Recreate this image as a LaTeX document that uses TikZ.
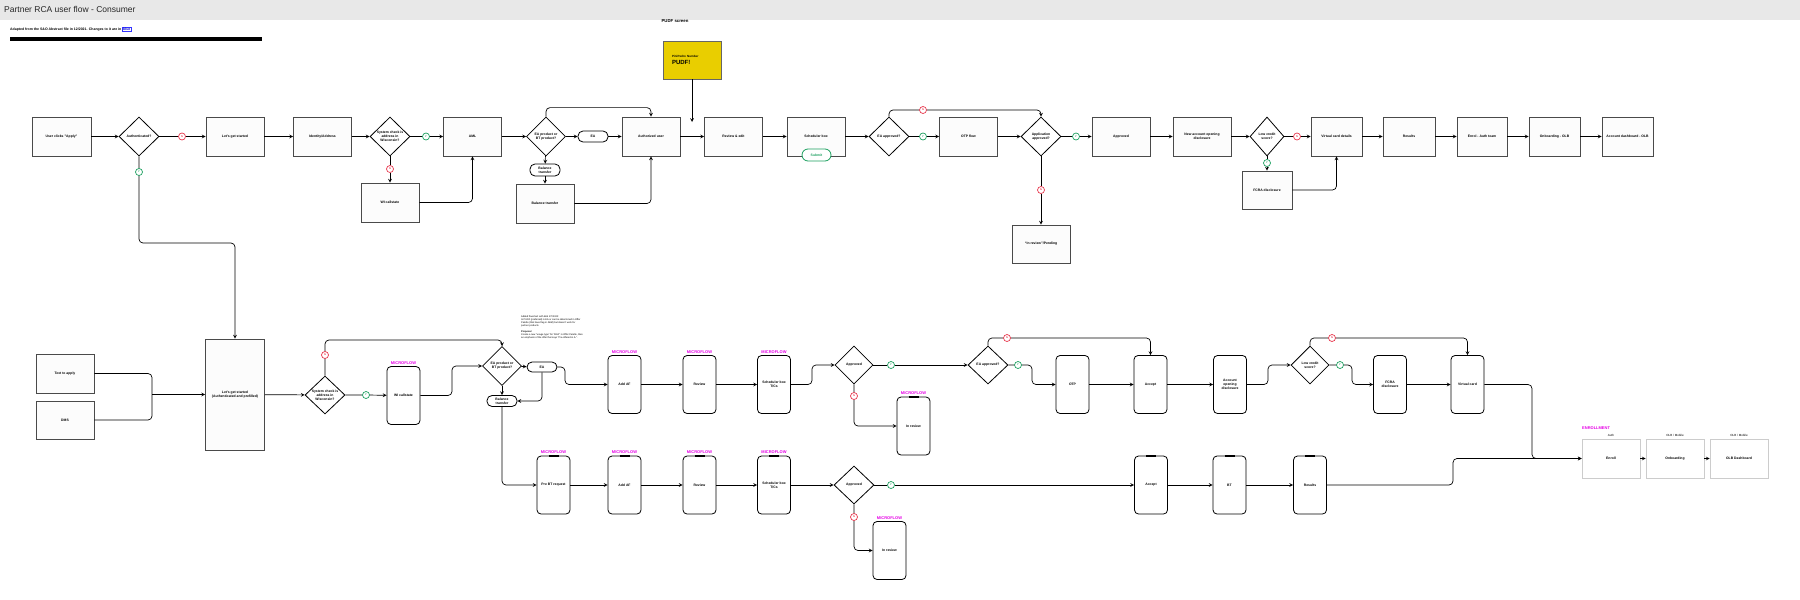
\documentclass[tikz,border=0pt]{standalone}
\usepackage{fontspec}
\setmainfont{Liberation Sans}
\usetikzlibrary{shapes.geometric,positioning}
\definecolor{okgreen}{HTML}{1A9F5E}
\definecolor{nored}{HTML}{E8364C}
\definecolor{mflow}{HTML}{E500E5}
\definecolor{pudfyellow}{HTML}{E9CE00}
\definecolor{boxline}{HTML}{4A4A4A}

\begin{document}
\begin{tikzpicture}[x=1pt,y=1pt,>=stealth]
\tikzstyle{every node}+=[inner sep=0pt]
\tikzstyle{txt}=[font=\fontsize{3.4}{4.2}\selectfont\bfseries, align=center]
\tikzstyle{box}=[txt, rectangle, draw=boxline, fill=gray!2, line width=0.8pt, minimum width=58pt, minimum height=39pt]
\tikzstyle{enrollbox}=[box, draw=gray!40, fill=white, line width=0.6pt]
\tikzstyle{phone}=[txt, rectangle, rounded corners=4pt, draw=black, fill=white, line width=0.8pt, minimum width=33pt, minimum height=58pt]
\tikzstyle{ask}=[txt, diamond, aspect=1, draw=black, fill=white, line width=0.8pt, minimum width=40pt, minimum height=39pt]
\tikzstyle{pill}=[txt, rectangle, rounded corners=5pt, draw=black, fill=white, line width=0.8pt, minimum width=30pt, minimum height=11pt]
\tikzstyle{ybadge}=[circle, draw=okgreen, fill=white, text=okgreen, line width=0.7pt, minimum size=7pt, font=\fontsize{2.5}{3}\selectfont\bfseries]
\tikzstyle{nbadge}=[ybadge, draw=nored, text=nored]
\tikzstyle{flow}=[->, line width=0.7pt, rounded corners=4pt]
\tikzstyle{micro}=[font=\fontsize{4}{4}\selectfont\bfseries, text=mflow]
\tikzstyle{small}=[font=\fontsize{3}{3.5}\selectfont]
\useasboundingbox (0,0) rectangle (1800,-600);

% header
\fill[gray!18] (0,0) rectangle (1800,-20);
\node[anchor=west, font=\fontsize{8.5}{10}\selectfont, text=black!85] (title) at (4,-9.5) {Partner RCA user flow - Consumer};
\node[anchor=west, font=\fontsize{3.5}{4}\selectfont\bfseries] (adapted) at (10,-29.5) {Adapted from the S\&O Abstract file in 12/2021. Changes to it are in};
\node[right=0.8pt of adapted, draw=blue!80, text=blue!80!black, font=\fontsize{3.5}{4}\selectfont\bfseries, inner sep=0.6pt] (bluetag) {blue};
\fill (10,-37.3) rectangle (262,-40.7);

% PUDF screen
\node[font=\fontsize{4.3}{5}\selectfont\bfseries] (pudfcap) at (675,-21) {PUDF screen};
\node[box, fill=pudfyellow, draw=black!60, minimum height=38pt, align=left, text width=40pt] (pudf) at (692,-60)
  {\fontsize{3}{4}\selectfont PiniPedro Number\\[2pt]\fontsize{6}{7}\selectfont PUDF!};
\coordinate (pudfend) at (692,-122);

% top row
\node[box, minimum width=59pt] (apply) at (61.5,-136.5) {User clicks "Apply"};
\node[ask] (authq) at (139,-136.5) {Authenticated?};
\node[nbadge] (n1) at (182,-136.5) {N};
\node[box] (start1) at (235,-136.5) {Let's get started};
\node[box] (ident) at (322.5,-136.5) {Identity/Address};
\node[ask] (wiq1) at (390,-136.5) {System check is\\address in\\Wisconsin?};
\node[ybadge] (y1) at (426,-136.5) {Y};
\node[box] (aml) at (472.5,-136.5) {AML};
\node[ask, minimum width=39pt] (eaq1) at (546,-136.5) {EA product or\\BT product?};
\node[pill] (ea1) at (593,-136.5) {EA};
\node[box] (authuser) at (651,-136.5) {Authorized user};
\node[box] (review) at (733.5,-136.5) {Review \& edit};
\node[box] (sched) at (816,-136.5) {Scheduler box};
\node[ask] (eaok1) at (889,-136.5) {EA approved?};
\node[ybadge] (y2) at (923,-136.5) {Y};
\node[box] (otp1) at (968.5,-136.5) {OTP flow};
\node[ask] (appok) at (1041,-136.5) {Application\\approved?};
\node[ybadge] (y3) at (1076,-136.5) {Y};
\node[box] (approved) at (1121,-136.5) {Approved};
\node[box] (newacct) at (1202,-136.5) {New account opening\\disclosure};
\node[ask, minimum width=34pt] (lowq1) at (1267,-136.5) {Low credit\\score?};
\node[nbadge] (n2) at (1297,-136.5) {N};
\node[box, minimum width=51pt] (vcard1) at (1336.5,-136.5) {Virtual card details};
\node[box, minimum width=52pt] (results1) at (1409,-136.5) {Results};
\node[box, minimum width=50pt] (enrol1) at (1482,-136.5) {Enrol - Auth team};
\node[box, minimum width=51pt] (onbolb) at (1554.5,-136.5) {Onboarding - OLB};
\node[box, minimum width=51pt] (dash) at (1627.5,-136.5) {Account dashboard - OLB};

% below top row
\node[ybadge] (y4) at (139,-172) {Y};
\node[nbadge] (n3) at (390,-169) {N};
\node[box] (wicall1) at (390,-202.5) {WI callstate};
\node[pill, minimum height=12pt] (bt1) at (545,-170) {Balance\\transfer};
\node[box] (btbox) at (545,-203.5) {Balance transfer};
\node[pill, draw=okgreen, text=okgreen, minimum width=29pt, minimum height=12pt, rounded corners=6pt] (submit) at (816.5,-155) {Submit};
\node[nbadge] (n4) at (923,-110) {N};
\node[nbadge] (n5) at (1041,-190) {N};
\node[box, minimum height=38pt] (pending) at (1041,-244) {“In review”/Pending};
\node[ybadge] (y5) at (1267,-163) {Y};
\node[box, minimum width=50pt, minimum height=38pt] (fcra1) at (1267,-190) {FCRA disclosure};

\draw[flow] (apply) -- (authq);
\draw[flow] (authq) -- (n1) -- (start1);
\draw[flow] (start1) -- (ident);
\draw[flow] (ident) -- (wiq1);
\draw[flow] (wiq1) -- (y1) -- (aml);
\draw[flow] (aml) -- (eaq1);
\draw[flow] (eaq1) -- (ea1);
\draw[flow] (ea1) -- (authuser);
\draw[flow] (authuser) -- (review);
\draw[flow] (review) -- (sched);
\draw[flow] (sched) -- (eaok1);
\draw[flow] (eaok1) -- (y2) -- (otp1);
\draw[flow] (otp1) -- (appok);
\draw[flow] (appok) -- (y3) -- (approved);
\draw[flow] (approved) -- (newacct);
\draw[flow] (newacct) -- (lowq1);
\draw[flow] (lowq1) -- (n2) -- (vcard1);
\draw[flow] (vcard1) -- (results1);
\draw[flow] (results1) -- (enrol1);
\draw[flow] (enrol1) -- (onbolb);
\draw[flow] (onbolb) -- (dash);
\draw[flow] (wiq1) -- (n3) -- (wicall1);
\draw[flow] (wicall1) -| (aml);
\draw[flow] (eaq1.north) -- ++(0,9) -| (authuser.north);
\draw[flow] (eaq1) -- (bt1);
\draw[flow] (bt1) -- (btbox);
\draw[flow] (btbox) -| (authuser);
\draw[flow] (pudf) -- (pudfend);
\draw[flow] (eaok1) |- (n4) -| (appok);
\draw[flow] (appok) -- (n5) -- (pending);
\draw[flow] (lowq1) -- (y5) -- (fcra1);
\draw[flow] (fcra1) -| (vcard1);

% second part
\node[box] (txtapply) at (65,-373.5) {Text to apply};
\node[box, minimum height=38pt] (dms) at (65,-420) {DMS};
\coordinate (brace) at (152,-394.5);
\node[box, minimum width=59pt, minimum height=111pt] (start2) at (235,-394.5) {Let's get started\\(Authenticated and prefilled)};
\node[ask, minimum height=38pt] (wiq2) at (325,-395) {System check is\\address in\\Wisconsin?};
\node[nbadge] (n6) at (325,-355) {N};
\node[ybadge] (y6) at (366,-395) {Y};
\node[phone, label={[micro, label distance=1.5pt]above:MICROFLOW}] (wicall2) at (403.5,-395.5) {WI callstate};
\node[ask, minimum width=39pt] (eaq2) at (502,-366) {EA product or\\BT product?};
\node[pill, minimum height=10pt] (ea2) at (542,-367) {EA};
\node[pill] (bt2) at (502,-401) {Balance\\transfer};
\node[anchor=north west, align=left, font=\fontsize{2.4}{2.9}\selectfont] (memo) at (521,-316)
  {Added flowchart with Bob 1/7/2022:\\Is PUDF (preferred) in EA or can be determined in Offer\\Palette (that have flag in AEM) but doesn't work for\\partner products.\\[2.9pt]\textbf{Proposal}\\Create a new "usage type" for "BCA" in Offer Palette, then\\an emphasis of the offer that says "Pre-offered in A-".};

\node[phone, label={[micro, label distance=1.5pt]above:MICROFLOW}] (addaf1) at (624.5,-384.5) {Add AF};
\node[phone, label={[micro, label distance=1.5pt]above:MICROFLOW}] (review1) at (699.5,-384.5) {Review};
\node[phone, label={[micro, label distance=1.5pt]above:MICROFLOW}] (sched1) at (774,-384.5) {Scheduler box\\T/Cs};
\node[ask, minimum width=38pt, minimum height=38pt] (appr1) at (854,-365) {Approved};
\node[ybadge] (y7) at (891,-365) {Y};
\node[nbadge] (n7) at (854,-396) {N};
\node[phone, label={[micro, label distance=1.5pt]above:MICROFLOW}] (inrev1) at (913.5,-426) {In review};
\node[ask, minimum height=38pt] (eaok2) at (988,-365) {EA approved?};
\node[nbadge] (n8) at (1007,-338) {N};
\node[ybadge] (y8) at (1018,-365) {Y};
\node[phone] (otp2) at (1072.5,-384.5) {OTP};
\node[phone] (accept1) at (1150.5,-384.5) {Accept};
\node[phone] (aod) at (1230,-384.5) {Account\\opening\\disclosure};
\node[ask, minimum width=38pt, minimum height=38pt] (lowq2) at (1310,-365) {Low credit\\score?};
\node[nbadge] (n9) at (1332,-338) {N};
\node[ybadge] (y9) at (1340,-365) {Y};
\node[phone] (fcra2) at (1390,-384.5) {FCRA\\disclosure};
\node[phone] (vcard2) at (1467.5,-384.5) {Virtual card};

\node[anchor=west, micro] (enrollcap) at (1582,-428) {ENROLLMENT};
\node[enrollbox, label={[small, label distance=1.5pt]above:Auth}] (enroll) at (1611,-458.5) {Enroll};
\node[enrollbox, label={[small, label distance=1.5pt]above:OLB / Mobile}] (onboard) at (1675,-458.5) {Onboarding};
\node[enrollbox, label={[small, label distance=1.5pt]above:OLB / Mobile}] (olbdash) at (1739,-458.5) {OLB Dashboard};

% third row
\node[phone, label={[micro, label distance=1.5pt]above:MICROFLOW}] (prebt) at (553.5,-485) {Pre BT request};
\node[phone, label={[micro, label distance=1.5pt]above:MICROFLOW}] (addaf2) at (624.5,-485) {Add AF};
\node[phone, label={[micro, label distance=1.5pt]above:MICROFLOW}] (review2) at (699.5,-485) {Review};
\node[phone, label={[micro, label distance=1.5pt]above:MICROFLOW}] (sched2) at (774,-485) {Scheduler box\\T/Cs};
\node[ask, minimum height=38pt] (appr2) at (854,-485) {Approved};
\node[ybadge] (y10) at (891,-485) {Y};
\node[nbadge] (n10) at (854,-517) {N};
\node[phone, label={[micro, label distance=1.5pt]above:MICROFLOW}] (inrev2) at (889.5,-550.5) {In review};
\node[phone] (accept2) at (1151,-485) {Accept};
\node[phone] (bt) at (1229.5,-485) {BT};
\node[phone] (results2) at (1310,-485) {Results};

\foreach \p in {wicall2,addaf1,review1,sched1,inrev1,otp2,accept1,aod,fcra2,vcard2,prebt,addaf2,review2,sched2,inrev2,accept2,bt,results2}
  \draw[line width=1.5pt] ([xshift=-5pt,yshift=-0.6pt]\p.north) -- ([xshift=5pt,yshift=-0.6pt]\p.north);

\draw[line width=0.7pt, rounded corners=4pt] (txtapply) -| (brace);
\draw[line width=0.7pt, rounded corners=4pt] (dms) -| (brace);
\draw[flow] (brace) -- (start2);
\draw[flow] (authq) -- (y4) -- (139,-243) -| (start2);
\draw[flow] (start2) -- (wiq2);
\draw[flow] (wiq2) -- (n6) -- (325,-340) -| (eaq2);
\draw[flow] (wiq2) -- (y6) -- (wicall2);
\draw[flow] (wicall2) -- (452,-395.5) |- (eaq2);
\draw[flow] (eaq2) -- (ea2);
\draw[flow] (ea2) -- (565,-367) |- (addaf1);
\draw[flow] (ea2) |- (bt2);
\draw[flow] (eaq2) -- (bt2);
\draw[flow] (bt2) |- (prebt);
\draw[flow] (addaf1) -- (review1);
\draw[flow] (review1) -- (sched1);
\draw[flow] (sched1) -- (812,-384.5) |- (appr1);
\draw[flow] (appr1) -- (y7) -- (eaok2);
\draw[flow] (appr1) -- (n7) |- (inrev1);
\draw[flow] (eaok2) |- (n8) -| (accept1);
\draw[flow] (eaok2) -- (y8) -- (1032,-365) |- (otp2);
\draw[flow] (otp2) -- (accept1);
\draw[flow] (accept1) -- (aod);
\draw[flow] (aod) -- (1268,-384.5) |- (lowq2);
\draw[flow] (lowq2) |- (n9) -| (vcard2);
\draw[flow] (lowq2) -- (y9) -- (1352,-365) |- (fcra2);
\draw[flow] (fcra2) -- (vcard2);
\draw[flow] (vcard2) -- (1532,-384.5) |- (enroll);
\draw[flow] (enroll) -- (onboard);
\draw[flow] (onboard) -- (olbdash);
\draw[flow] (prebt) -- (addaf2);
\draw[flow] (addaf2) -- (review2);
\draw[flow] (review2) -- (sched2);
\draw[flow] (sched2) -- (appr2);
\draw[flow] (appr2) -- (y10) -- (accept2);
\draw[flow] (appr2) -- (n10) |- (inrev2);
\draw[flow] (accept2) -- (bt);
\draw[flow] (bt) -- (results2);
\draw[flow] (results2) -- (1453,-485) |- (enroll);
\end{tikzpicture}
\end{document}
